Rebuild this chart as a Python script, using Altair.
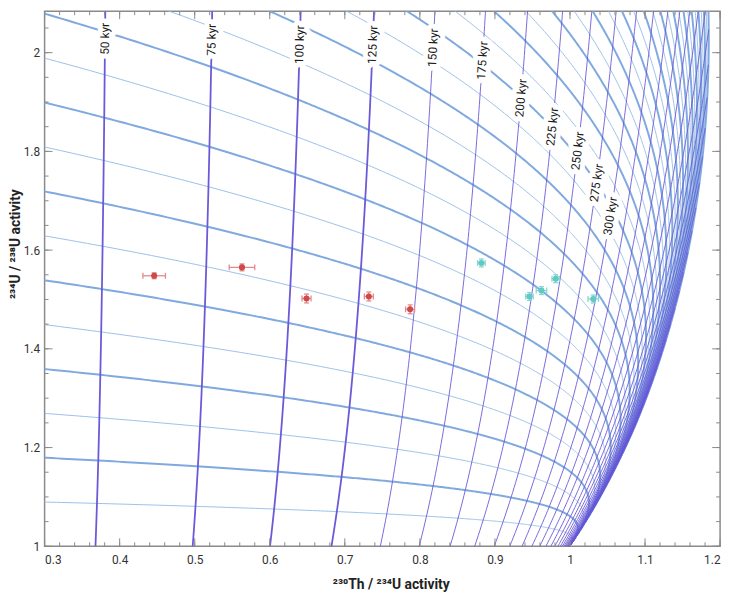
import numpy as np
import pandas as pd
import altair as alt

# ---------------- data ----------------
HALF_LIFE_TH230 = 75.584   # kyr
HALF_LIFE_U234 = 245.620   # kyr

# initial 234U/238U activity of each growth curve
initial_ratios = [1.1, 1.2, 1.3, 1.4, 1.5, 1.6, 1.7, 1.8, 1.9, 2.0,
                  2.1, 2.2, 2.3, 2.4, 2.5, 2.6, 2.7, 2.8, 2.9, 3.0,
                  3.1, 3.2, 3.3, 3.4, 3.5, 3.6, 3.7, 3.8, 3.9, 4.0,
                  4.1, 4.2, 4.3, 4.4, 4.5, 4.6, 4.7, 4.8, 4.9, 5.0]
# isochron ages (kyr)
isochron_ages = [25, 50, 75, 100, 125, 150, 175, 200, 225, 250, 275, 300,
                 325, 350, 375, 400, 425, 450, 475, 500, 525, 550, 575, 600,
                 625, 650, 675, 700, 725, 750, 775, 800, 825, 850, 875, 900,
                 925, 950, 975, 1000]
labelled_ages = [50, 75, 100, 125, 150, 175, 200, 225, 250, 275, 300]
label_y = [2.028, 2.026, 2.016, 2.016, 2.010, 1.984, 1.908, 1.850, 1.801, 1.736, 1.669]

red_x = [0.446, 0.563, 0.649, 0.732, 0.787]
red_y = [1.548, 1.565, 1.502, 1.506, 1.480]
red_xerr = [0.015, 0.017, 0.006, 0.006, 0.006]
red_yerr = [0.006, 0.007, 0.009, 0.009, 0.009]

cyan_x = [0.882, 0.946, 0.962, 0.981, 1.031]
cyan_y = [1.574, 1.506, 1.518, 1.542, 1.501]
cyan_xerr = [0.005, 0.005, 0.007, 0.005, 0.007]
cyan_yerr = [0.008, 0.008, 0.008, 0.008, 0.008]

x_major = [0.3, 0.4, 0.5, 0.6, 0.7, 0.8, 0.9, 1.0, 1.1, 1.2]
y_major = [1.0, 1.2, 1.4, 1.6, 1.8, 2.0]

# ---------------- model ----------------
L230 = np.log(2) / HALF_LIFE_TH230
L234 = np.log(2) / HALF_LIFE_U234


def ratios(g0, t):
    g0 = np.asarray(g0, dtype=float)
    t = np.asarray(t, dtype=float)
    gt = 1 + (g0 - 1) * np.exp(-L234 * t)
    th = 1 - np.exp(-L230 * t) + (gt - 1) * (L230 / (L230 - L234)) * (1 - np.exp(-(L230 - L234) * t))
    return th / gt, gt


T_MAX = max(isochron_ages)
t_grid = np.linspace(0, T_MAX, 900)
rows = []
for g0 in initial_ratios:
    xs, ys = ratios(g0, t_grid)
    thick = abs(round(g0 * 10) % 2) == 0
    for i, (a, b) in enumerate(zip(xs, ys)):
        rows.append({"id": f"g{g0}", "i": i, "x": a, "y": b, "thick": thick})
growth = pd.DataFrame(rows)

g_grid = np.linspace(1.0, max(initial_ratios), 200)
rows = []
for age in isochron_ages:
    xs, ys = ratios(g_grid, age)
    for i, (a, b) in enumerate(zip(xs, ys)):
        rows.append({"id": f"t{age}", "i": i, "x": a, "y": b, "thick": age <= 125})
iso = pd.DataFrame(rows)

W, H = 683, 541
X0, X1 = 0.3, 1.2
Y0 = 1.0
Y1 = 1.0 + H / 499.1
px_x = W / (X1 - X0)
px_y = H / (Y1 - Y0)

lab_rows = []
for age, yv in zip(labelled_ages, label_y):
    e = np.exp(-L234 * age)
    g0 = 1 + (yv - 1) / e
    xv, _ = ratios(g0, age)
    xa, ya = ratios(g0 - 0.05, age)
    xb, yb = ratios(g0 + 0.05, age)
    ang = 270 + np.degrees(np.arctan(((xb - xa) * px_x) / ((yb - ya) * px_y)))
    lab_rows.append({"x": float(xv), "y": yv, "label": f"{age} kyr", "angle": float(ang)})
labels = pd.DataFrame(lab_rows)

red = pd.DataFrame({"x": red_x, "y": red_y,
                    "xlo": np.array(red_x) - np.array(red_xerr), "xhi": np.array(red_x) + np.array(red_xerr),
                    "ylo": np.array(red_y) - np.array(red_yerr), "yhi": np.array(red_y) + np.array(red_yerr)})
cyan = pd.DataFrame({"x": cyan_x, "y": cyan_y,
                     "xlo": np.array(cyan_x) - np.array(cyan_xerr), "xhi": np.array(cyan_x) + np.array(cyan_xerr),
                     "ylo": np.array(cyan_y) - np.array(cyan_yerr), "yhi": np.array(cyan_y) + np.array(cyan_yerr)})

x_minor = [round(0.3 + 0.02 * i, 3) for i in range(46)]
y_minor = [round(1.0 + 0.05 * i, 3) for i in range(22)]
xt_major = pd.DataFrame({"v": x_major})
xt_minor = pd.DataFrame({"v": x_minor})
yt_major = pd.DataFrame({"v": y_major})
yt_minor = pd.DataFrame({"v": [v for v in y_minor if v <= Y1]})

# ---------------- chart ----------------
xscale = alt.Scale(domain=[X0, X1], nice=False, zero=False)
yscale = alt.Scale(domain=[Y0, Y1], nice=False, zero=False)
xaxis = alt.Axis(title="²³⁰Th / ²³⁴U activity", values=x_major, format="~g", grid=False,
                 domain=False, ticks=False, labelPadding=8, titlePadding=13, titleX=350)
yaxis = alt.Axis(title="²³⁴U / ²³⁸U activity", values=y_major, format="~g", grid=False,
                 domain=False, ticks=False, labelPadding=5, titleX=-29, titleY=235,
                 titleBaseline="middle", titleAlign="center", titleAngle=270)


def X(f):
    return alt.X(f, type="quantitative", scale=xscale, axis=xaxis)


def Y(f):
    return alt.Y(f, type="quantitative", scale=yscale, axis=yaxis)


GC_THICK = "#80aadf"
GC_THIN = "#9cbfe8"
ISO = "#6a5ad8"
GRAY = "#8a8a8a"

g_thin = alt.Chart(growth[~growth.thick]).mark_line(color=GC_THIN, strokeWidth=1, clip=True).encode(
    x=X("x"), y=Y("y"), detail="id:N", order="i:Q")
g_thick = alt.Chart(growth[growth.thick]).mark_line(color=GC_THICK, strokeWidth=2, clip=True).encode(
    x=X("x"), y=Y("y"), detail="id:N", order="i:Q")
i_thin = alt.Chart(iso[~iso.thick]).mark_line(color=ISO, strokeWidth=1, clip=True, opacity=0.9).encode(
    x=X("x"), y=Y("y"), detail="id:N", order="i:Q")
i_thick = alt.Chart(iso[iso.thick]).mark_line(color=ISO, strokeWidth=1.8, clip=True).encode(
    x=X("x"), y=Y("y"), detail="id:N", order="i:Q")

halo = alt.Chart(labels).mark_text(font="Roboto", fontSize=12, color="white", stroke="white",
                                   strokeWidth=10, strokeJoin="round", align="center",
                                   baseline="middle").encode(
    x=X("x"), y=Y("y"), text="label:N", angle=alt.Angle("angle:Q", scale=None))
txt = alt.Chart(labels).mark_text(font="Roboto", fontSize=12, color="#1a1a1a", align="center",
                                  baseline="middle").encode(
    x=X("x"), y=Y("y"), text="label:N", angle=alt.Angle("angle:Q", scale=None))


def samples(df, pt_color, bar_color):
    base = alt.Chart(df)
    xb = base.mark_rule(color=bar_color, strokeWidth=1.3).encode(x=X("xlo"), x2="xhi", y=Y("y"))
    yb = base.mark_rule(color=bar_color, strokeWidth=1.3).encode(x=X("x"), y=Y("ylo"), y2="yhi")
    c1 = base.mark_rule(color=bar_color, strokeWidth=1.3, yOffset=-3, y2Offset=3).encode(
        x=X("xlo"), y=Y("y"), y2="y")
    c2 = base.mark_rule(color=bar_color, strokeWidth=1.3, yOffset=-3, y2Offset=3).encode(
        x=X("xhi"), y=Y("y"), y2="y")
    c3 = base.mark_rule(color=bar_color, strokeWidth=1.3, xOffset=-2.5, x2Offset=2.5).encode(
        x=X("x"), x2="x", y=Y("ylo"))
    c4 = base.mark_rule(color=bar_color, strokeWidth=1.3, xOffset=-2.5, x2Offset=2.5).encode(
        x=X("x"), x2="x", y=Y("yhi"))
    pt = base.mark_circle(color=pt_color, size=38, opacity=1).encode(x=X("x"), y=Y("y"))
    return [xb, yb, c1, c2, c3, c4, pt]


def xticks(df, length, top):
    if top:
        return alt.Chart(df).mark_rule(color=GRAY, strokeWidth=1).encode(
            x=X("v"), y=alt.value(0), y2=alt.value(length))
    return alt.Chart(df).mark_rule(color=GRAY, strokeWidth=1).encode(
        x=X("v"), y=alt.value(H), y2=alt.value(H - length))


def yticks(df, length, right):
    if right:
        return alt.Chart(df).mark_rule(color=GRAY, strokeWidth=1).encode(
            y=Y("v"), x=alt.value(W), x2=alt.value(W - length))
    return alt.Chart(df).mark_rule(color=GRAY, strokeWidth=1).encode(
        y=Y("v"), x=alt.value(0), x2=alt.value(length))


ticks = [xticks(xt_minor, 4, False), xticks(xt_major, 8, False),
         xticks(xt_minor, 4, True), xticks(xt_major, 8, True),
         yticks(yt_minor, 4, False), yticks(yt_major, 8, False),
         yticks(yt_minor, 4, True), yticks(yt_major, 8, True)]

layers = [g_thin, g_thick, i_thin, i_thick, halo, txt] + \
    samples(red, "#d04848", "#e38a8a") + samples(cyan, "#62c9c2", "#86d8d2") + ticks

chart = alt.layer(*layers).properties(
    width=W, height=H,
    autosize=alt.AutoSizeParams(type="none"),
    padding={"left": 37, "top": 0, "right": 8, "bottom": 45},
).configure_view(
    stroke=GRAY, strokeWidth=1.5
).configure_axis(
    labelFont="Roboto", labelFontSize=12, labelColor="#333333",
    titleFont="Roboto", titleFontSize=14, titleFontWeight="bold", titleColor="#222222"
)

chart.save("out.html", embed_options={"renderer": "svg", "actions": False})
